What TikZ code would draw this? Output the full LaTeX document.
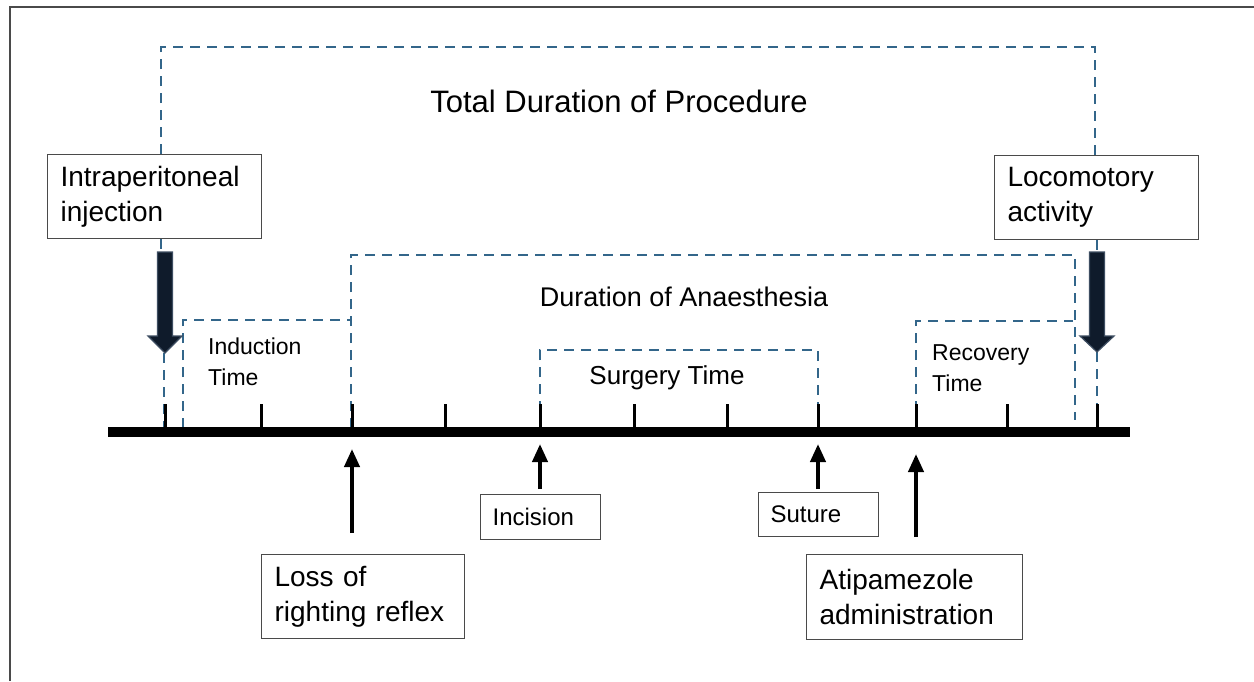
\documentclass[tikz,border=0pt]{standalone}
\usepackage{fontspec}
\setmainfont{Liberation Sans}
\usetikzlibrary{arrows.meta}
\definecolor{dashblue}{HTML}{33668A}
\definecolor{navyarrow}{HTML}{0F1B2B}
\definecolor{arrowedge}{HTML}{3E4E62}
\definecolor{framegray}{HTML}{4A4A4A}
\begin{document}
\begin{tikzpicture}[x=1pt,y=-1pt,
  dashln/.style={draw=dashblue, line width=1.8pt, dash pattern=on 10pt off 7pt},
  tickln/.style={line width=3pt},
  box/.style={draw=framegray, line width=1.2pt, anchor=north west, inner xsep=13pt, inner ysep=0pt, align=left, font=\fontsize{28}{35}\selectfont},
  smallbox/.style={box, inner xsep=12pt, font=\fontsize{24}{28}\selectfont},
  lbl/.style={inner sep=0pt},
  twoline/.style={lbl, anchor=west, align=left, font=\fontsize{23}{31}\selectfont},
  uparrow/.style={line width=4pt, -{Triangle[length=18pt,width=15pt]}},
  bigarrow/.style={fill=navyarrow, draw=arrowedge, line width=1.2pt, line join=miter}
]
\useasboundingbox (0,0) rectangle (1254,681);
\fill[white] (0,0) rectangle (1254,681);
% frame
\draw[framegray, line width=1.5pt] (10,681) -- (10,7) -- (1254,7);

% boxes
\node[box, text width=188pt, minimum height=84pt] (ip) at (47,154) {Intraperitoneal\\injection};
\node[box, text width=178pt, minimum height=84pt] (lc) at (994,155) {Locomotory\\activity};
\node[box, text width=177pt, minimum height=84pt] (loss) at (261,554) {Loss of\\righting reflex};
\node[box, text width=190pt, minimum height=85pt] (atip) at (806,554) {Atipamezole\\administration};
\node[smallbox, text width=96pt, minimum height=45pt] (inc) at (480,494) {Incision};
\node[smallbox, text width=96pt, minimum height=44pt] (sut) at (758,492) {Suture};

% labels
\node[lbl, font=\fontsize{31}{36}\selectfont] (total) at (619,101) {Total Duration of Procedure};
\node[lbl, font=\fontsize{27}{32}\selectfont] (anaes) at (684,297) {Duration of Anaesthesia};
\node[lbl, font=\fontsize{26}{31}\selectfont] (surg) at (667,378) {Surgery Time};
\node[twoline] (ind) at (208,361.5) {Induction\\Time};
\node[twoline] (rec) at (932,368.5) {Recovery\\Time};

% coordinates
\coordinate (tl) at (161,47);
\coordinate (tr) at (1095,47);

% dashed brackets
\draw[dashln] (ip.north -| tl) -- (tl) -- (tr) -- (lc.north -| tr);
\draw[dashln] (ip.south -| tl) -- (161,252);
\draw[dashln] (lc.south -| 1097,0) -- (1097,252);
\draw[dashln] (164,353) -- (164,428);
\draw[dashln] (1097,352) -- (1097,428);
\draw[dashln] (183,428) -- (183,320) -- (351,320);
\draw[dashln] (351,428) -- (351,255) -- (1075,255) -- (1075,420);
\draw[dashln] (540,428) -- (540,350) -- (818,350) -- (818,428);
\draw[dashln] (916,428) -- (916,321) -- (1073,321);

% timeline
\coordinate (barL) at (108,432);
\coordinate (barR) at (1130,432);
\draw[line width=10pt] (barL) -- (barR);
\foreach \x in {165,261,352,445,540,634,727,818,916,1007,1097}
  \draw[tickln] (\x,404) -- (\x,428);

% big arrows (drawn as arrow shapes)
\draw[bigarrow] (157.5,252) -- (172.5,252) -- (172.5,336) -- (182,336) -- (165,353)
  -- (148,336) -- (157.5,336) -- cycle;
\draw[bigarrow] (1089.5,252) -- (1104.5,252) -- (1104.5,336) -- (1114,336) -- (1097,352)
  -- (1080,336) -- (1089.5,336) -- cycle;

% up arrows
\coordinate (lossA) at (352,533); \coordinate (lossB) at (352,449);
\coordinate (incA) at (540,489); \coordinate (incB) at (540,444);
\coordinate (sutA) at (818,489); \coordinate (sutB) at (818,444);
\coordinate (atA) at (916,537); \coordinate (atB) at (916,454);
\draw[uparrow] (lossA) -- (lossB);
\draw[uparrow] (incA) -- (incB);
\draw[uparrow] (sutA) -- (sutB);
\draw[uparrow] (atA) -- (atB);
\end{tikzpicture}
\end{document}
